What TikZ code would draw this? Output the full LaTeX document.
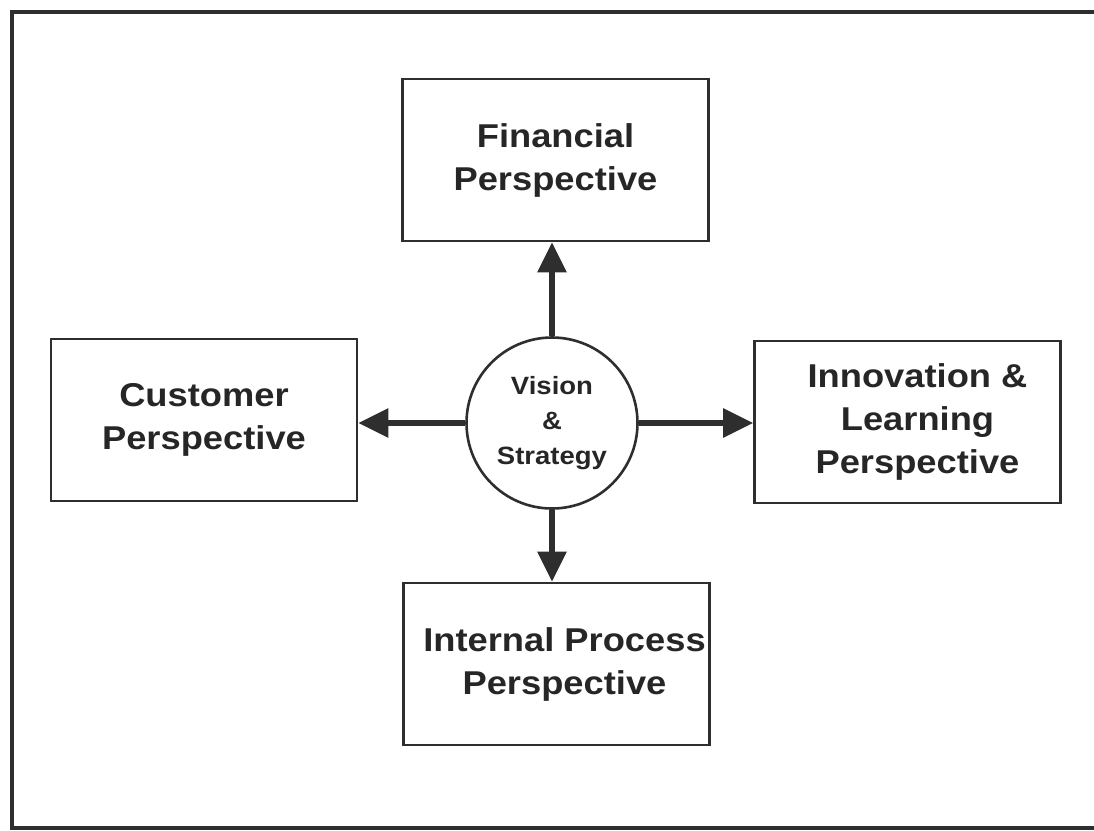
\documentclass[tikz,border=0pt]{standalone}
\usepackage{fontspec}
\setmainfont{Liberation Sans}[FakeStretch=1.1]
\usetikzlibrary{arrows.meta}
\definecolor{ink}{HTML}{2E2E2E}
\definecolor{txt}{HTML}{262626}
\tikzset{
  persp/.style={draw=ink, line width=2.6pt, minimum width=306pt, minimum height=162pt,
    inner sep=0pt, align=center, text=txt, font=\bfseries\fontsize{33}{43}\selectfont},
  hub/.style={circle, draw=ink, line width=2.6pt, minimum size=171pt, inner sep=0pt,
    align=center, text=txt, font=\bfseries\fontsize{25}{35}\selectfont},
  link/.style={draw=ink, line width=5.5pt, -{Triangle[length=30pt,width=28pt]}}
}
\begin{document}
\begin{tikzpicture}[x=1pt,y=-1pt]
\useasboundingbox (0,0) rectangle (1094,830);
\begin{scope}
\clip (0,0) rectangle (1094,830);
\draw[ink, line width=4pt] (12,12) rectangle (1110,828);
\end{scope}
\node[hub] (c) at (552,423) {Vision\\\&\\Strategy};
\node[persp] (fin) at (555.5,160) {Financial\\Perspective};
\node[persp] (cus) at (204,420) {Customer\\Perspective};
\node[persp] (inn) at (907.5,422) {\hspace*{20pt}Innovation \&\\\hspace*{20pt}Learning\\\hspace*{20pt}Perspective};
\node[persp] (int) at (556.5,664) {\hspace*{16pt}Internal Process\\\hspace*{16pt}Perspective};
\draw[link] (c.north) -- (c.north |- fin.south);
\draw[link] (c.south) -- (c.south |- int.north);
\draw[link] (c.west) -- (c.west -| cus.east);
\draw[link] (c.east) -- (c.east -| inn.west);
\end{tikzpicture}
\end{document}
